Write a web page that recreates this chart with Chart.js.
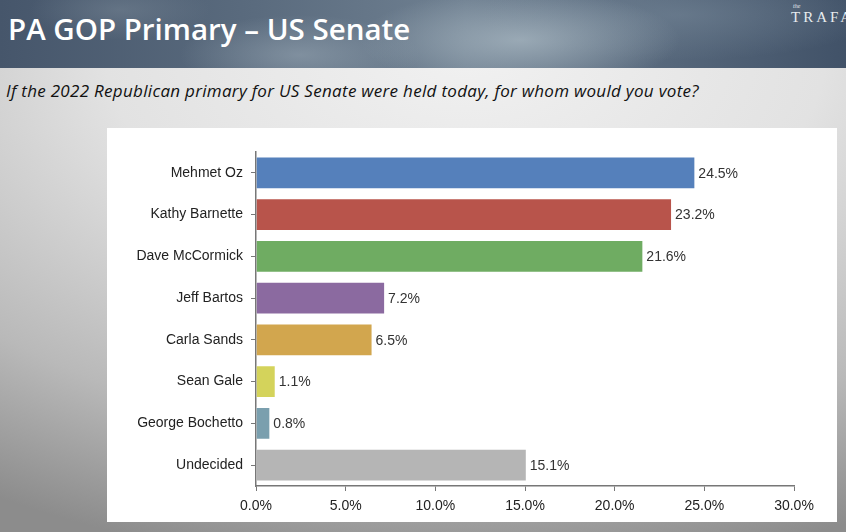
<!DOCTYPE html>
<html>
<head>
<meta charset="utf-8">
<script src="https://cdn.jsdelivr.net/npm/chart.js@4"></script>
<style>
  html,body{margin:0;padding:0;}
  body{width:846px;height:532px;overflow:hidden;position:relative;
    background:radial-gradient(ellipse 900px 520px at 55% 10%, #f1f1f1 0%, #e2e2e2 40%, #b9b9b9 75%, #8c8c8c 100%);
    font-family:"Liberation Sans",Arial,sans-serif;}
  #head{position:absolute;left:0;top:0;width:846px;height:68px;
    background:
      radial-gradient(ellipse 160px 50px at 520px 40px, rgba(170,185,195,.75), rgba(170,185,195,0)),
      radial-gradient(ellipse 120px 40px at 300px 55px, rgba(150,165,178,.6), rgba(150,165,178,0)),
      radial-gradient(ellipse 90px 30px at 120px 10px, rgba(120,135,150,.5), rgba(120,135,150,0)),
      radial-gradient(ellipse 200px 45px at 680px 15px, rgba(120,138,155,.5), rgba(120,138,155,0)),
      linear-gradient(90deg, #46566b 0%, #5a6b7e 30%, #6f8091 55%, #55667a 80%, #415268 100%);}
  #title{position:absolute;left:8px;top:8px;color:#fff;font-family:"Open Sans",sans-serif;font-weight:600;
    font-size:29.5px;letter-spacing:0px;}
  #logo{position:absolute;left:791px;top:9px;color:#e8ecef;font-family:"Liberation Serif",serif;font-size:15px;letter-spacing:3px;}
  #logo small{position:absolute;left:2px;top:-6px;font-size:6px;letter-spacing:0;font-style:italic;}
  #sub{position:absolute;left:6px;top:79px;color:#111;font-family:"Open Sans",sans-serif;font-style:italic;font-size:17px;letter-spacing:0.3px;}
  #panel{position:absolute;left:107px;top:128px;width:730px;height:394px;background:#fff;}
</style>
</head>
<body>
<div id="head"><div id="title">PA GOP Primary – US Senate</div><div id="logo"><small>the</small>TRAFA</div></div>
<div id="sub">If the 2022 Republican primary for US Senate were held today, for whom would you vote?</div>
<div id="panel"><canvas id="c" width="730" height="394"></canvas></div>
<script>
const candidates = ['Mehmet Oz','Kathy Barnette','Dave McCormick','Jeff Bartos','Carla Sands','Sean Gale','George Bochetto','Undecided'];
const shares = [24.5, 23.2, 21.6, 7.2, 6.5, 1.1, 0.8, 15.1];
const barColors = ['#5580bb','#b8544b','#6fac62','#8b6aa0','#d2a64e','#d4d35b','#7a9fae','#b5b5b5'];
const xTicks = [0, 5, 10, 15, 20, 25, 30];

const endLabels = {
  id:'endLabels',
  afterDatasetsDraw(chart){
    const ctx = chart.ctx;
    const meta = chart.getDatasetMeta(0);
    ctx.save();
    ctx.font = '14px "Liberation Sans", Arial, sans-serif';
    ctx.fillStyle = '#333';
    ctx.textBaseline = 'middle';
    meta.data.forEach((bar,i)=>{ ctx.fillText(shares[i].toFixed(1)+'%', bar.x+3, bar.y+1); });
    ctx.restore();
  }
};

new Chart(document.getElementById('c'), {
  type:'bar',
  data:{ labels:candidates, datasets:[{ data:shares, backgroundColor:barColors, borderColor:'rgba(255,255,255,0.5)', borderWidth:1, barPercentage:0.78, categoryPercentage:1 }] },
  options:{
    indexAxis:'y', responsive:false, animation:false,
    layout:{ padding:{ top:24, right:43, left:0, bottom:0 } },
    plugins:{ legend:{display:false}, tooltip:{enabled:false} },
    scales:{
      x:{ min:0, max:30, afterBuildTicks:s=>{ s.ticks = xTicks.map(v=>({value:v})); },
        afterFit:s=>{ s.height = 36; },
        border:{ color:'#777', width:1.5 },
        grid:{ drawOnChartArea:false, color:'#777', tickLength:5 },
        ticks:{ color:'#222', padding:7, font:{ family:'"Liberation Sans", Arial, sans-serif', size:14 }, callback:v=>v.toFixed(1)+'%' } },
      y:{ afterFit:s=>{ s.width = 149; },
        border:{ color:'#777', width:1.5 },
        grid:{ drawOnChartArea:false, offset:false, color:'#777', tickLength:5 },
        ticks:{ color:'#222', padding:8, font:{ family:'"Liberation Sans", Arial, sans-serif', size:14 } } }
    }
  },
  plugins:[endLabels]
});
</script>
</body>
</html>
